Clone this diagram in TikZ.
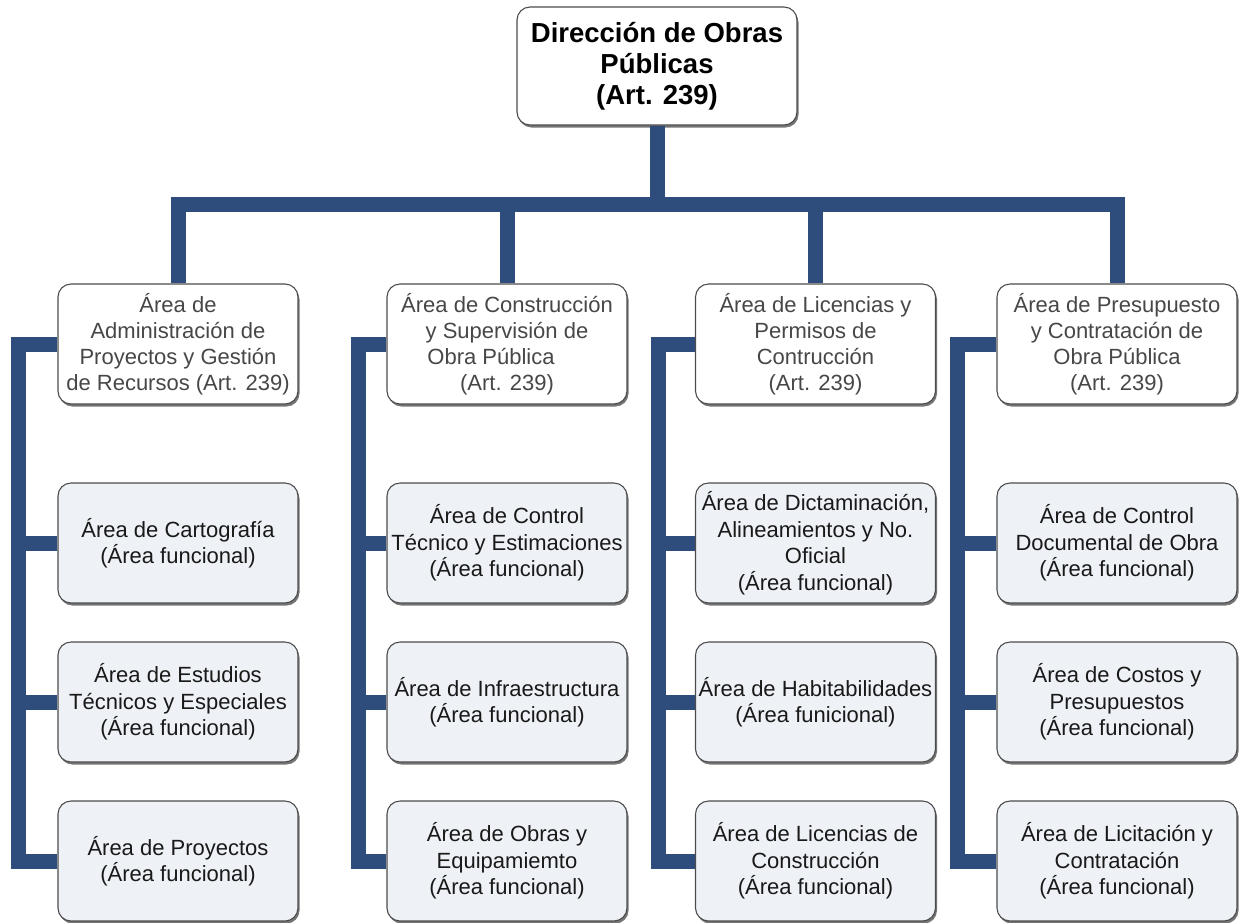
\documentclass[tikz,border=0pt]{standalone}
\usepackage{fontspec}
\setmainfont{Liberation Sans}
\usetikzlibrary{shadows}
\definecolor{conncol}{RGB}{46,76,124}
\definecolor{leaffill}{RGB}{238,241,246}
\begin{document}
\begin{tikzpicture}[x=1pt, y=-1pt,
  box/.style={draw=black!70, line width=1.1pt, rounded corners=13pt,
    minimum width=240pt, minimum height=120pt, align=center, inner sep=1pt,
    drop shadow={shadow xshift=1.5pt, shadow yshift=-2.5pt, fill=black!60, opacity=0.9}},
  topbox/.style={box, fill=white, minimum width=280pt, minimum height=118pt,
    font=\bfseries\fontsize{27.5}{31}\selectfont},
  midbox/.style={box, fill=white, text=black!72, font=\fontsize{22}{26}\selectfont},
  leafbox/.style={box, fill=leaffill, text=black!90, font=\fontsize{22}{26.5}\selectfont},
  link/.style={draw=conncol, line width=15pt, line join=miter}]
\useasboundingbox (0,0) rectangle (1245,922);

% top
\node[topbox] (top) at (657,66) {Dirección de Obras\\Públicas\\(Art. 239)};

% level 2
\node[midbox] (b1) at (178,344) {Área de\\Administración de\\Proyectos y Gestión\\de Recursos (Art. 239)};
\node[midbox] (b2) at (507,344) {Área de Construcción\\y Supervisión de\\Obra Pública\rule{32pt}{0pt}\\(Art. 239)};
\node[midbox] (b3) at (815.5,344) {Área de Licencias y\\Permisos de\\Contrucción\\(Art. 239)};
\node[midbox] (b4) at (1117,344) {Área de Presupuesto\\y Contratación de\\Obra Pública\\(Art. 239)};

% level 3, column 1
\node[leafbox] (l11) at (178,543) {Área de Cartografía\\(Área funcional)};
\node[leafbox] (l12) at (178,702) {Área de Estudios\\Técnicos y Especiales\\(Área funcional)};
\node[leafbox] (l13) at (178,861) {Área de Proyectos\\(Área funcional)};
% column 2
\node[leafbox] (l21) at (507,543) {Área de Control\\Técnico y Estimaciones\\(Área funcional)};
\node[leafbox] (l22) at (507,702) {Área de Infraestructura\\(Área funcional)};
\node[leafbox] (l23) at (507,861) {Área de Obras y\\Equipamiemto\\(Área funcional)};
% column 3
\node[leafbox] (l31) at (815.5,543) {Área de Dictaminación,\\Alineamientos y No.\\Oficial\\(Área funcional)};
\node[leafbox] (l32) at (815.5,702) {Área de Habitabilidades\\(Área funicional)};
\node[leafbox] (l33) at (815.5,861) {Área de Licencias de\\Construcción\\(Área funcional)};
% column 4
\node[leafbox] (l41) at (1117,543) {Área de Control\\Documental de Obra\\(Área funcional)};
\node[leafbox] (l42) at (1117,702) {Área de Costos y\\Presupuestos\\(Área funcional)};
\node[leafbox] (l43) at (1117,861) {Área de Licitación y\\Contratación\\(Área funcional)};

% top connectors
\coordinate (bar) at (657,204.5);
\draw[link] (top.south) -- (bar);
\draw[link] (b1.north) |- (bar) -| (b4.north);
\draw[link] (b2.north) -- (b2.north |- bar);
\draw[link] (b3.north) -- (b3.north |- bar);

% spines
\coordinate (s1) at (18.5,0);
\coordinate (s2) at (358,0);
\coordinate (s3) at (658.5,0);
\coordinate (s4) at (957,0);

\draw[link] (b1.west) -| (s1 |- l13.west) -- (l13.west);
\draw[link] (l11.west) -- (l11.west -| s1);
\draw[link] (l12.west) -- (l12.west -| s1);

\draw[link] (b2.west) -| (s2 |- l23.west) -- (l23.west);
\draw[link] (l21.west) -- (l21.west -| s2);
\draw[link] (l22.west) -- (l22.west -| s2);

\draw[link] (b3.west) -| (s3 |- l33.west) -- (l33.west);
\draw[link] (l31.west) -- (l31.west -| s3);
\draw[link] (l32.west) -- (l32.west -| s3);

\draw[link] (b4.west) -| (s4 |- l43.west) -- (l43.west);
\draw[link] (l41.west) -- (l41.west -| s4);
\draw[link] (l42.west) -- (l42.west -| s4);
\end{tikzpicture}
\end{document}
